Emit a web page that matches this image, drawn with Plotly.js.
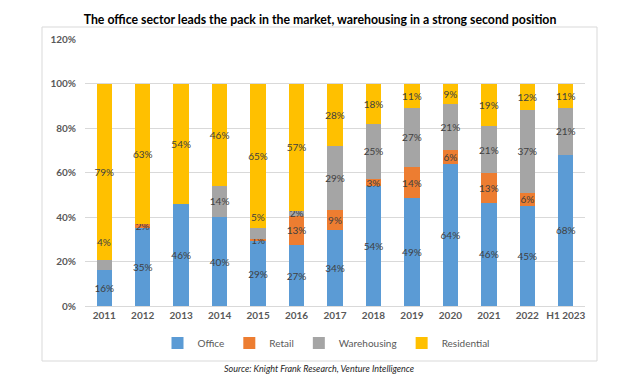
<!DOCTYPE html>
<html>
<head>
<meta charset="utf-8">
<script src="https://cdn.plot.ly/plotly-3.0.1.min.js"></script>
<style>
html,body{margin:0;padding:0;background:#fff;}
#chart{width:640px;height:387px;}
</style>
</head>
<body>
<div id="chart"></div>
<script>
const categories = ['2011','2012','2013','2014','2015','2016','2017','2018','2019','2020','2021','2022','H1 2023'];
const office      = [16.4,35,46,40,29,27.4,34,54,48.6,64,46.3,45,68];
const retail      = [0,2,0,0,1,13.2,9,3,13.8,6,13.3,6,0];
const warehousing = [4.2,0,0,14,5,2,29,25,26.8,21,21.2,37,21];
const residential = [79.4,63,54,46,65,57.4,28,18,10.8,9,19.2,12,11];
const seriesNames = ['Office','Retail','Warehousing','Residential'];
const yTicks = [0,20,40,60,80,100,120];
// warehousing labels that sit just above their thin segment in the reference
const liftedWarehousing = {'2011': 10, '2015': 3};

const FONT = 'Lato, "Open Sans", sans-serif';
const colors = ['#5b9bd5','#ed7d31','#a5a5a5','#ffc000'];
const data = [office, retail, warehousing, residential];

const traces = data.map((vals, i) => ({
  type: 'bar',
  name: seriesNames[i],
  x: categories,
  y: vals,
  text: vals.map((v, j) => {
    if (!(v > 0)) return '';
    if (seriesNames[i] === 'Warehousing' && liftedWarehousing[categories[j]] !== undefined) return '';
    return Math.round(v) + '%';
  }),
  texttemplate: '%{text}',
  textposition: 'inside',
  insidetextanchor: 'middle',
  textangle: 0,
  constraintext: 'none',
  textfont: {family: FONT, size: 10, color: '#404040'},
  marker: {color: colors[i], line: {width: 0}},
  hoverinfo: 'skip'
}));

const annotations = [{
  text: '<i>Source: Knight Frank Research, Venture Intelligence</i>',
  xref: 'paper', yref: 'paper',
  x: (319-85)/500, y: (306-368)/267,
  xanchor: 'center', yanchor: 'middle',
  showarrow: false,
  font: {family: FONT, size: 9, color: '#262626'}
}];
categories.forEach((c, j) => {
  if (liftedWarehousing[c] === undefined) return;
  annotations.push({
    text: Math.round(warehousing[j]) + '%',
    xref: 'x', yref: 'y',
    x: j,  // category index
    y: office[j] + retail[j] + warehousing[j],
    xanchor: 'center', yanchor: 'bottom',
    yshift: liftedWarehousing[c],
    showarrow: false,
    font: {family: FONT, size: 10, color: '#404040'}
  });
});

const layout = {
  width: 640, height: 387,
  margin: {l: 85, r: 55, t: 39, b: 81},
  barmode: 'stack',
  bargap: 0.6,
  paper_bgcolor: '#fff',
  plot_bgcolor: '#fff',
  font: {family: FONT, color: '#595959'},
  title: {
    text: '<b>The office sector leads the pack in the market, warehousing in a strong second position</b>',
    font: {family: FONT, size: 12.3, color: '#000'},
    x: 0.5, xref: 'container', xanchor: 'center',
    y: 1 - 20/387, yref: 'container', yanchor: 'middle'
  },
  xaxis: {
    type: 'category',
    range: [-0.5, categories.length - 0.5],
    tickfont: {family: FONT, size: 10, color: '#595959', weight: 'bold'},
    showgrid: false,
    showline: true, linecolor: '#d9d9d9', linewidth: 1,
    ticks: '', ticklen: 0,
    automargin: false
  },
  yaxis: {
    range: [0, 120],
    tickvals: yTicks,
    ticktext: yTicks.map(v => v + '%'),
    tickfont: {family: FONT, size: 10, color: '#595959', weight: 'bold'},
    showgrid: true, gridcolor: '#d9d9d9', gridwidth: 1,
    zeroline: false, showline: false,
    ticks: '', ticklabelstandoff: 8,
    automargin: false
  },
  legend: {
    orientation: 'h',
    x: 0.482, xanchor: 'center',
    y: -0.139, yanchor: 'middle',
    font: {family: FONT, size: 10, color: '#595959'},
    traceorder: 'normal',
    itemwidth: 30,
    bgcolor: 'rgba(0,0,0,0)'
  },
  shapes: [{
    type: 'rect', xref: 'paper', yref: 'paper',
    x0: (42-85)/500, x1: (597-85)/500,
    y0: (306-361)/267, y1: (306-27)/267,
    line: {color: '#d9d9d9', width: 1},
    fillcolor: 'rgba(0,0,0,0)',
    layer: 'below'
  }],
  annotations: annotations
};

Plotly.newPlot('chart', traces, layout, {displayModeBar: false, staticPlot: true});
</script>
</body>
</html>
